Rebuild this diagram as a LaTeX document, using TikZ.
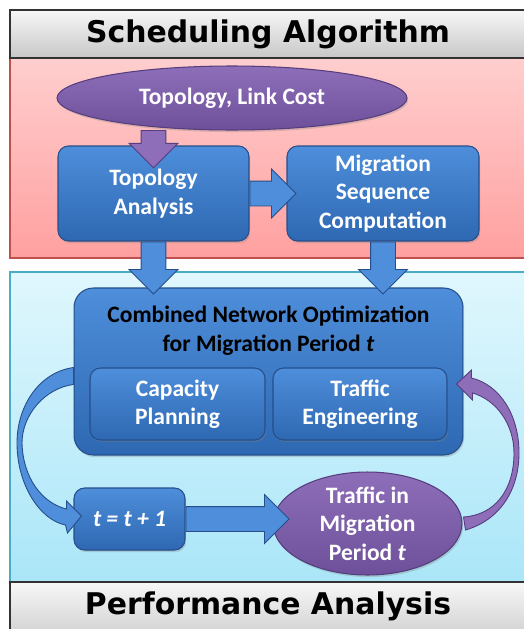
\documentclass[tikz,border=0pt]{standalone}
\usepackage{fontspec}
\setmainfont{Carlito}
\newfontfamily\headfont{DejaVu Sans}
\usetikzlibrary{shapes.geometric,shapes.arrows,calc,shadows}

\definecolor{boxblue}{RGB}{78,142,218}
\definecolor{boxbluedark}{RGB}{46,104,178}
\definecolor{boxedge}{RGB}{38,78,138}
\definecolor{ovalpurple}{RGB}{142,110,184}
\definecolor{ovalpurpledark}{RGB}{110,80,154}
\definecolor{ovaledge}{RGB}{86,62,126}
\definecolor{redfill}{RGB}{255,206,206}
\definecolor{redfilldark}{RGB}{255,160,160}
\definecolor{rededge}{RGB}{192,80,77}
\definecolor{cyanfill}{RGB}{224,247,253}
\definecolor{cyanfilldark}{RGB}{170,230,248}
\definecolor{cyanedge}{RGB}{75,172,198}

\begin{document}
\begin{tikzpicture}[x=0.02cm,y=-0.02cm,
    box text/.style={font=\bfseries\fontsize{13.4}{16.2}\selectfont,align=center},
    blue box/.style={box text,rectangle,rounded corners=6pt,text=white,draw=boxedge,line width=0.6pt,
        top color=boxblue,bottom color=boxbluedark,inner sep=0pt,
        drop shadow={opacity=0.3,shadow xshift=0.7pt,shadow yshift=-1.2pt}},
    purple oval/.style={box text,ellipse,text=white,draw=ovaledge,line width=0.6pt,
        top color=ovalpurple,bottom color=ovalpurpledark,inner sep=0pt,
        drop shadow={opacity=0.3,shadow xshift=0.7pt,shadow yshift=-1.2pt}},
    block arrow/.style={single arrow,draw=boxedge,fill=boxblue,line width=0.5pt,inner sep=0.24cm,
        minimum width=0.96cm,single arrow head extend=0.24cm,single arrow head indent=0pt},
    head bar/.style={draw=black!80,line width=0.8pt,top color=white!97!black,bottom color=white!78!black},
    head text/.style={font=\headfont\bfseries\fontsize{17}{20}\selectfont}]

\useasboundingbox (0,0) rectangle (524,629);

% regions
\draw[draw=rededge,line width=1.5pt,top color=redfill,bottom color=redfilldark] (10,58) rectangle (540,258);
\draw[draw=cyanedge,line width=1.5pt,top color=cyanfill,bottom color=cyanfilldark] (10,272) rectangle (540,582);
\draw[head bar] (10,10) rectangle (540,58);
\draw[head bar] (10,582) rectangle (540,650);
\node[head text] (sched) at (268,34) {Scheduling Algorithm};
\node[head text] (perf) at (268,606) {Performance Analysis};

% scheduling part
\node[blue box,minimum width=3.82cm,minimum height=1.90cm] (TA) at (153.5,193.5) {Topology\\Analysis};
\node[blue box,minimum width=3.84cm,minimum height=1.90cm] (MSC) at (383,193.5) {Migration\\Sequence\\Computation};
\node[block arrow,fill=ovalpurple,draw=ovaledge,shape border rotate=270,minimum height=0.56cm,anchor=tail]
    (a0) at (TA.north |- 232,130) {};
\node[purple oval,minimum width=7.0cm,minimum height=1.28cm] (lc) at (232,98) {Topology, Link Cost};
\node[block arrow,minimum height=0.92cm,anchor=tail] (a1) at (TA.east) {};

% optimization part
\node[blue box,rounded corners=11pt,minimum width=7.78cm,minimum height=3.34cm] (comb) at (268.5,371.5) {};
\node[box text] (combtxt) at ($(comb.north)+(0,43)$) {Combined Network Optimization\\for Migration Period \textit{t}};
\node[blue box,minimum width=3.5cm,minimum height=1.44cm] (CP) at (177.5,404) {Capacity\\Planning};
\node[blue box,minimum width=3.48cm,minimum height=1.44cm] (TE) at (360,404) {Traffic\\Engineering};
\node[block arrow,shape border rotate=270,minimum height=1.04cm,anchor=tail] (a2) at (TA.south) {};
\node[block arrow,shape border rotate=270,minimum height=1.04cm,anchor=tail] (a3) at (MSC.south) {};

\node[blue box,minimum width=2.22cm,minimum height=1.24cm] (t) at (129.5,519) {\textit{t = t + 1}};
\node[purple oval,minimum width=3.78cm,minimum height=2.06cm,
    label={[box text,text=white]center:Traffic in\\Migration\\Period \textit{t}}] (tp) at (367.5,523.5) {};
\node[block arrow,minimum height=2.06cm,anchor=tail] (a4) at (t.east) {};

% loop arrows
\filldraw[fill=boxblue,draw=boxedge,line width=0.5pt]
    ($(comb.west)+(0,-4)$) .. controls (40,372) and (17,405) .. (17,443)
    .. controls (17,485) and (40,520) .. ($(t.west)+(-8,6)$)
    -- ($(t.west)+(-6,14)$) -- ($(t.west)+(8,-3)$) -- ($(t.west)+(-7,-18)$) -- ($(t.west)+(-7,-10)$)
    .. controls (42,503) and (23,478) .. (22,443)
    .. controls (22,415) and (45,388) .. ($(comb.west)+(0,13)$) -- cycle;
\filldraw[fill=ovalpurple,draw=ovaledge,line width=0.5pt]
    ($(tp.east)+(1,-6.5)$) .. controls (495,515) and (514,490) .. (514,453)
    .. controls (514,425) and (497,400) .. ($(comb.east)+(9,21.5)$)
    -- ($(comb.east)+(9,28.5)$) -- ($(comb.east)+(-7,12.5)$) -- ($(comb.east)+(8,-1.5)$) -- ($(comb.east)+(8,6.5)$)
    .. controls (500,385) and (519,415) .. (519,453)
    .. controls (519,490) and (500,520) .. ($(tp.east)+(3,6.5)$) -- cycle;

\end{tikzpicture}
\end{document}
